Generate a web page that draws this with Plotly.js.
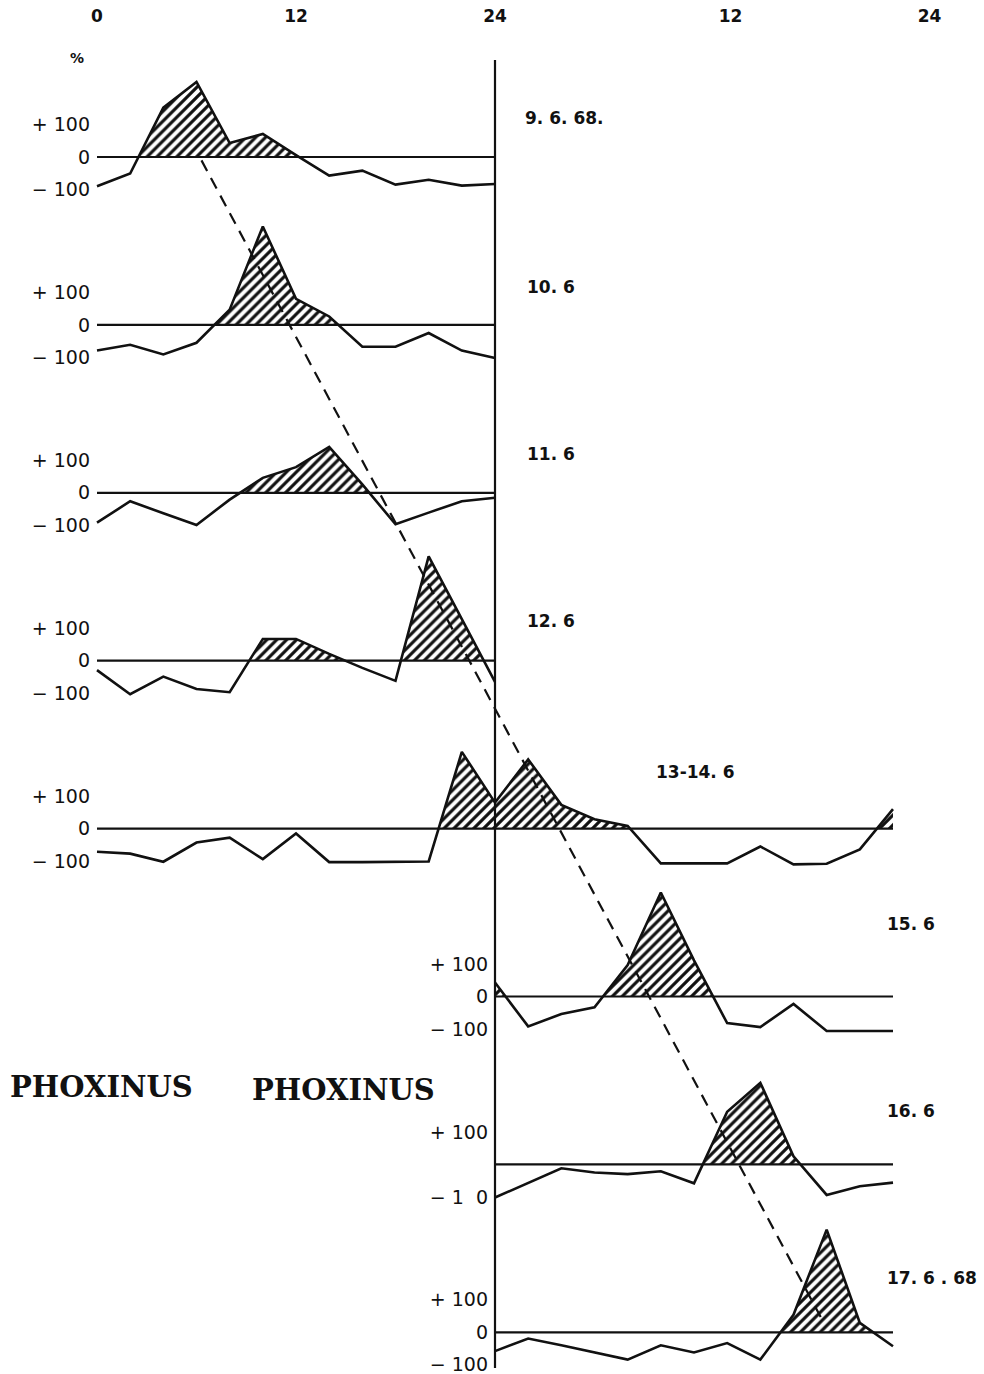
<!DOCTYPE html>
<html><head><meta charset="utf-8">
<script src="https://cdn.plot.ly/plotly-3.0.1.min.js"></script>
<style>html,body{margin:0;padding:0;background:#fff}#chart{width:984px;height:1374px}</style>
</head><body><div id="chart"></div>
<script>
// ---------------- data ----------------
const hoursDay1 = [0, 2, 4, 6, 8, 10, 12, 14, 16, 18, 20, 22, 24];
const hoursDay2 = [24, 26, 28, 30, 32, 34, 36, 38, 40, 42, 44, 46, 48];
const hoursBoth = [0, 2, 4, 6, 8, 10, 12, 14, 16, 18, 20, 22, 24, 26, 28, 30, 32, 34, 36, 38, 40, 42, 44, 46, 48];

const dates = ['9. 6. 68.', '10. 6', '11. 6', '12. 6', '13-14. 6', '15. 6', '16. 6', '17. 6 . 68'];

const v09 = [-90, -51, 152, 231, 43, 71, 6, -57, -42, -85, -70, -88, -83];
const v10 = [-79, -61, -91, -55, 47, 303, 80, 26, -67, -67, -25, -79, -102];
const v11 = [-92, -26, -63, -99, -21, 46, 79, 141, 26, -97, -61, -26, -15];
const v12 = [-29, -103, -49, -87, -97, 67, 67, 21, -22, -62, 321, 128, -65];
const v1314 = [-71, -77, -102, -43, -28, -94, -15, -103, -103, -103, -101, 236, 80,
               213, 73, 29, 8, -107, -107, -107, -55, -110, -108, -64, 60];
const v15 = [43, -92, -54, -33, 97, 320, 111, -82, -94, -23, -106, -106, -106];
const v16 = [-102, -56, -12, -25, -30, -21, -58, 162, 251, 25, -94, -67, -56];
const v17 = [-58, -19, -40, -62, -84, -40, -62, -33, -84, 54, 316, 29, -43];

const seriesHours = [hoursDay1, hoursDay1, hoursDay1, hoursDay1, hoursBoth, hoursDay2, hoursDay2, hoursDay2];
const seriesValues = [v09, v10, v11, v12, v1314, v15, v16, v17];

const tickVals = [100, 0, -100];
const tickTextStd = ['+ 100', '0', '\u2212 100'];
const tick16Vals = [100, -100];
const tick16Text = ['+ 100', '\u2212 1  0'];

const topTickText = ['0', '12', '24', '12', '24'];

// trend (dashed) line: hours and panel row where it starts / ends
const trendHours = [6.3, 43.7];
const trendRow = [0.02, 6.92];

// ---------------- geometry / style ----------------
const W = 984, H = 1374;
const X0 = 97, pxPerHour = 398 / 24;
const zero0 = 157, rowGap = 167.9, pxPerPct = 0.325;
const rLo = -125, rHi = 340;
const axisSide = [0, 0, 0, 0, 0, 1, 1, 1];        // 0: left axis at hour 0, 1: axis at hour 24
const topTickPos = [0, 12, 24, 38.2, 50.2];
const labelHour = [25.7, 25.8, 25.8, 25.8, 33.6, 47.5, 47.5, 47.5];
const labelPct = [120, 117, 118, 122, 175, 222, 163, 166];

const FONT = 'DejaVu Sans, Liberation Sans, Arial, sans-serif';
const INK = '#111';
const pfrac = p => 1 - p / H;
const clamp = v => Math.max(0, Math.min(1, v));

const traces = [];
const layout = {
  width: W, height: H,
  margin: {l: 0, r: 0, t: 0, b: 0},
  paper_bgcolor: '#fff', plot_bgcolor: 'rgba(0,0,0,0)',
  showlegend: false,
  font: {family: FONT, color: INK},
  xaxis: {
    range: [-X0 / pxPerHour, (W - X0) / pxPerHour], domain: [0, 1],
    anchor: 'free', position: 1, side: 'top',
    showline: false, showgrid: false, zeroline: false, ticks: '',
    tickmode: 'array', tickvals: topTickPos, ticktext: topTickText,
    ticklabelposition: 'inside', ticklabelstandoff: 6, ticklabeloverflow: 'allow',
    tickfont: {size: 17, family: FONT, color: INK, weight: 'bold'}
  },
  annotations: [], shapes: []
};

for (let i = 0; i < 8; i++) {
  const z = zero0 + rowGap * i;
  const lineAx = i + 1, hatchAx = i + 9;
  const lineName = lineAx === 1 ? 'yaxis' : 'yaxis' + lineAx;
  const hatchName = 'yaxis' + hatchAx;
  const top = clamp(pfrac(z - rHi * pxPerPct));
  layout[lineName] = {
    domain: [clamp(pfrac(z - rLo * pxPerPct)), top],
    range: [rLo, rHi], anchor: 'free',
    position: axisSide[i] ? (X0 + 24 * pxPerHour) / W : X0 / W,
    showline: false, showgrid: false, zeroline: false, ticks: '',
    tickmode: 'array',
    tickvals: i === 6 ? tick16Vals : tickVals,
    ticktext: i === 6 ? tick16Text : tickTextStd,
    ticklabelstandoff: 7, ticklabeloverflow: 'allow',
    tickfont: {size: 19, family: FONT, color: INK}
  };
  layout[hatchName] = {
    domain: [clamp(pfrac(z)), top], range: [0, rHi],
    anchor: 'free', position: 0, visible: false
  };
  const hrs = seriesHours[i], vals = seriesValues[i];
  const yl = lineAx === 1 ? 'y' : 'y' + lineAx;
  // hatched positive area (clipped to the part above the zero line)
  traces.push({
    x: hrs, y: vals, xaxis: 'x', yaxis: 'y' + hatchAx, type: 'scatter', mode: 'lines',
    line: {width: 0, color: 'rgba(0,0,0,0)'}, fill: 'tozeroy', fillcolor: 'rgba(0,0,0,0)',
    fillpattern: {shape: '/', fgcolor: INK, bgcolor: 'rgba(0,0,0,0)', size: 7, solidity: 0.45},
    hoverinfo: 'skip'
  });
  // zero line
  traces.push({
    x: [hrs[0], hrs[hrs.length - 1]], y: [0, 0], xaxis: 'x', yaxis: yl,
    type: 'scatter', mode: 'lines', line: {width: 2.2, color: INK}, hoverinfo: 'skip'
  });
  // data line
  traces.push({
    x: hrs, y: vals, xaxis: 'x', yaxis: yl, type: 'scatter', mode: 'lines',
    line: {width: 2.6, color: INK}, name: dates[i]
  });
  layout.annotations.push({
    x: labelHour[i], y: labelPct[i], xref: 'x', yref: yl, text: dates[i],
    showarrow: false, xanchor: 'left', yanchor: 'middle',
    font: {size: 17, family: 'DejaVu Sans, sans-serif', weight: 'bold', color: INK}
  });
}

// trend axis: value = panel row
layout.yaxis17 = {
  domain: [0, 1], range: [(H - zero0) / rowGap, -zero0 / rowGap],
  anchor: 'free', position: 0, visible: false
};
traces.push({
  x: trendHours, y: trendRow, xaxis: 'x', yaxis: 'y17', type: 'scatter', mode: 'lines',
  line: {width: 2.2, color: INK, dash: '12px,8px'}, hoverinfo: 'skip'
});

// vertical 24 h line
layout.shapes.push({
  type: 'line', xref: 'x', yref: 'paper', x0: 24, x1: 24,
  y0: pfrac(1368), y1: pfrac(60), line: {color: INK, width: 2.2}
});

layout.annotations.push(
  {x: 68 / W, y: pfrac(48), xref: 'paper', yref: 'paper', text: '%', showarrow: false,
   font: {size: 14, family: FONT, color: INK, weight: 'bold'}},
  {x: 8 / W, y: pfrac(1087), xref: 'paper', yref: 'paper', text: 'PHOXINUS', showarrow: false,
   xanchor: 'left', yanchor: 'middle',
   font: {size: 29, family: 'DejaVu Serif, serif', weight: 'bold', color: INK}},
  {x: 250 / W, y: pfrac(1090), xref: 'paper', yref: 'paper', text: 'PHOXINUS', showarrow: false,
   xanchor: 'left', yanchor: 'middle',
   font: {size: 29, family: 'DejaVu Serif, serif', weight: 'bold', color: INK}}
);

Plotly.newPlot('chart', traces, layout, {staticPlot: true, displayModeBar: false});
</script></body></html>
